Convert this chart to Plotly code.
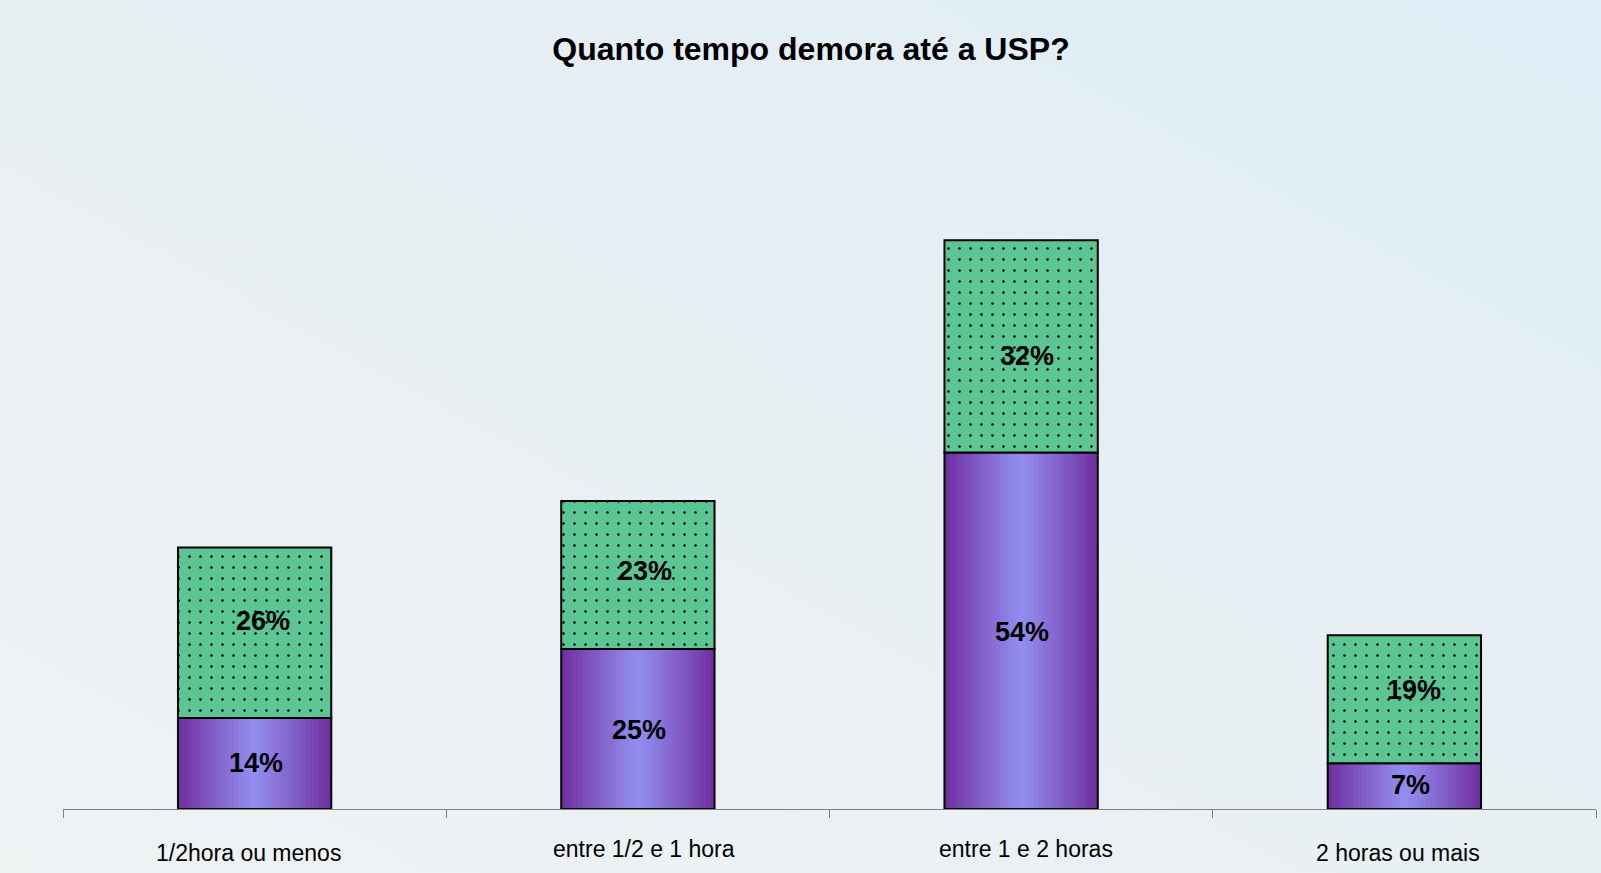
import base64
import plotly.graph_objects as go

# ---------------- data ----------------
categories = ["1/2hora ou menos", "entre 1/2 e 1 hora", "entre 1 e 2 horas", "2 horas ou mais"]
purple_values = [13.9, 24.4, 54.4, 7.0]      # bar heights
green_values = [26.0, 22.6, 32.4, 19.5]
purple_labels = ["14%", "25%", "54%", "7%"]
green_labels = ["26%", "23%", "32%", "19%"]
title_text = "Quanto tempo demora até a USP?"

# ---------------- style ----------------
FONT = "Liberation Sans, Arial, sans-serif"
W, H = 1601, 873
M_L, M_R, M_T, M_B = 63, 5, 100, 64
BAR_W = 0.4
DARK = (112, 48, 160)
LIGHT = (148, 144, 242)
GREEN = "#5cc594"
N_LAYERS = 18

purple_lbl_dx = [1, 1, 1, 6.5]
purple_lbl_dy = [0, -1, -1, 1]
green_lbl_dx = [8.5, 7.5, 6, 10]
green_lbl_dy = [12, 4, -10, 9]
cat_lbl_dx = [-6, 6, 5, -6.5]
cat_lbl_dy = [-43.5, -40, -40, -44]

fig = go.Figure()

# purple segments with a horizontal "from centre" gradient (concentric overlaid bars)
for k in range(N_LAYERS):
    d = 1 - k / N_LAYERS
    t = d ** 1.1
    col = tuple(round(LIGHT[i] + (DARK[i] - LIGHT[i]) * t) for i in range(3))
    fig.add_trace(go.Bar(
        x=categories, y=purple_values, base=[0] * len(categories),
        width=BAR_W * d,
        marker=dict(color="rgb(%d,%d,%d)" % col, line=dict(width=0)),
        showlegend=False, hoverinfo="skip",
    ))

# outline of purple segments
fig.add_trace(go.Bar(
    x=categories, y=purple_values, base=[0] * len(categories), width=BAR_W,
    marker=dict(color="rgba(0,0,0,0)", line=dict(color="black", width=2)),
    showlegend=False, hovertemplate="%{x}: %{customdata}<extra></extra>",
    customdata=purple_labels,
))

# green dotted segments
fig.add_trace(go.Bar(
    x=categories, y=green_values, base=purple_values, width=BAR_W,
    marker=dict(
        color=GREEN,
        line=dict(color="black", width=2),
        pattern=dict(shape=".", size=11, solidity=0.04, fgcolor="black",
                     bgcolor=GREEN, fillmode="replace"),
    ),
    showlegend=False, hovertemplate="%{x}: %{customdata}<extra></extra>",
    customdata=green_labels,
))

annotations = []
for i, c in enumerate(categories):
    annotations.append(dict(
        x=c, y=purple_values[i] / 2, text="<b>%s</b>" % purple_labels[i],
        showarrow=False, xshift=purple_lbl_dx[i], yshift=purple_lbl_dy[i],
        font=dict(family=FONT, size=27, color="black"),
        xanchor="center", yanchor="middle",
    ))
    annotations.append(dict(
        x=c, y=purple_values[i] + green_values[i] / 2, text="<b>%s</b>" % green_labels[i],
        showarrow=False, xshift=green_lbl_dx[i], yshift=green_lbl_dy[i],
        font=dict(family=FONT, size=27, color="black"),
        xanchor="center", yanchor="middle",
    ))
    annotations.append(dict(
        x=c, y=0, text=c, showarrow=False,
        xshift=cat_lbl_dx[i], yshift=cat_lbl_dy[i],
        font=dict(family=FONT, size=23, color="black"),
        xanchor="center", yanchor="middle",
    ))

# background gradient as an SVG image
svg = (
    '<svg xmlns="http://www.w3.org/2000/svg" width="1601" height="873" '
    'preserveAspectRatio="none" viewBox="0 0 1601 873">'
    '<defs><linearGradient id="g" x1="0" y1="1" x2="1" y2="0">'
    '<stop offset="0" stop-color="#eff2f3"/>'
    '<stop offset="0.5" stop-color="#e8eff3"/>'
    '<stop offset="1" stop-color="#deedf6"/>'
    '</linearGradient></defs>'
    '<rect width="1601" height="873" fill="url(#g)"/></svg>'
)
svg_uri = "data:image/svg+xml;base64," + base64.b64encode(svg.encode()).decode()
pw = W - M_L - M_R
ph = H - M_T - M_B

fig.update_layout(
    width=W, height=H,
    margin=dict(l=M_L, r=M_R, t=M_T, b=M_B, pad=0),
    barmode="overlay",
    paper_bgcolor="#e8eff3",
    plot_bgcolor="rgba(0,0,0,0)",
    font=dict(family=FONT, color="black"),
    title=dict(
        text="<b>%s</b>" % title_text,
        x=811 / W, xref="container", xanchor="center",
        y=1 - 49 / H, yref="container", yanchor="middle",
        font=dict(family=FONT, size=32, color="black"),
    ),
    images=[dict(
        source=svg_uri, xref="paper", yref="paper",
        x=-M_L / pw, y=1 + M_T / ph, sizex=W / pw, sizey=H / ph,
        xanchor="left", yanchor="top", sizing="stretch", layer="below",
    )],
    annotations=annotations,
    xaxis=dict(
        type="category", range=[-0.5, 3.5],
        showticklabels=False, tickson="boundaries", ticks="outside",
        ticklen=8, tickwidth=1, tickcolor="#808080",
        showline=True, linecolor="#808080", linewidth=1,
        showgrid=False, zeroline=False, fixedrange=True,
    ),
    yaxis=dict(
        range=[0, 108.2], visible=False, showgrid=False, zeroline=False,
        fixedrange=True,
    ),
)

fig.write_html(
    "out.html",
    config={"displayModeBar": False},
    post_script="document.body.style.margin='0';document.body.style.overflow='hidden';",
)
